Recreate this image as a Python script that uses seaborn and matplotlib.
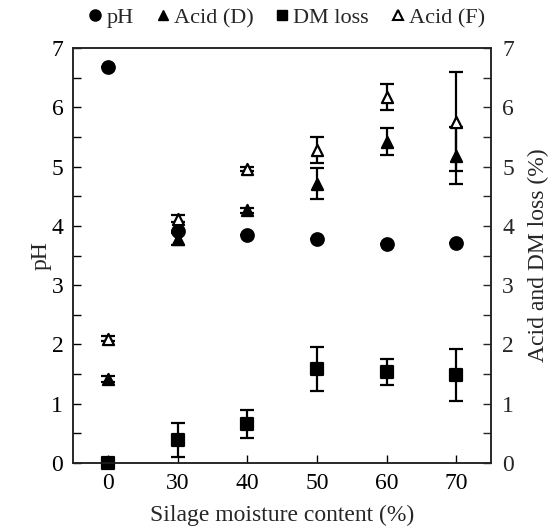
import matplotlib
matplotlib.use("Agg")
import matplotlib.pyplot as plt
from matplotlib.lines import Line2D
from matplotlib.ticker import MultipleLocator
import seaborn as sns
import pandas as pd

moisture = ["0", "30", "40", "50", "60", "70"]
ph = [6.68, 3.92, 3.85, 3.78, 3.69, 3.72]
ph_err = [0, 0, 0, 0, 0, 0]
acid_d = [1.42, 3.78, 4.26, 4.71, 5.42, 5.18]
acid_d_err = [0.05, 0.1, 0.05, 0.26, 0.23, 0.48]
acid_f = [2.10, 4.12, 4.96, 5.28, 6.17, 5.76]
acid_f_err = [0.04, 0.06, 0.04, 0.22, 0.22, 0.83]
dm_loss = [0.0, 0.39, 0.66, 1.58, 1.54, 1.48]
dm_loss_err = [0.0, 0.29, 0.23, 0.37, 0.22, 0.44]

sns.set_style("ticks")
plt.rcParams["font.family"] = ["Liberation Serif", "DejaVu Serif"]

FS = 17

fig = plt.figure(figsize=(5.53, 5.28), dpi=100)
ax = fig.add_axes([0.132, 0.123, 0.756, 0.786])

series = [
    ("pH", ph, ph_err, "o", "black", 9),
    ("Acid (D)", acid_d, acid_d_err, "^", "black", 8),
    ("DM loss", dm_loss, dm_loss_err, "s", "black", 8.5),
    ("Acid (F)", acid_f, acid_f_err, "^", "white", 8),
]

rows = []
for name, vals, errs, m, fc, ms in series:
    for x, v, e in zip(moisture, vals, errs):
        rows.append({"moisture": x, "value": v, "err": e, "series": name})
df = pd.DataFrame(rows)

for name, vals, errs, m, fc, ms in series:
    sub = df[df["series"] == name]
    ax.errorbar(sub["moisture"], sub["value"], yerr=sub["err"], fmt="none",
                ecolor="black", elinewidth=1.6, capsize=5, capthick=1.6, zorder=2)

for name, vals, errs, m, fc, ms in series:
    sub = df[df["series"] == name]
    sns.scatterplot(data=sub, x="moisture", y="value", ax=ax, marker=m,
                    s=ms ** 2, color=fc, edgecolor="black", linewidth=1.6,
                    zorder=3, legend=False, clip_on=False)

ax.set_xlim(-0.5, 5.5)
ax.set_ylim(0, 7)
ax.yaxis.set_major_locator(MultipleLocator(1))
ax.yaxis.set_minor_locator(MultipleLocator(0.5))
ax.tick_params(axis="both", which="both", direction="in", length=6, width=1,
               labelsize=FS, colors="black")
ax.tick_params(axis="x", pad=7)
ax.tick_params(axis="y", pad=7)
ax.set_xlabel("Silage moisture content (%)", fontsize=FS, labelpad=8)
ax.set_ylabel("pH", fontsize=FS, labelpad=0)

ax2 = ax.twinx()
ax2.set_ylim(0, 7)
ax2.yaxis.set_major_locator(MultipleLocator(1))
ax2.yaxis.set_minor_locator(MultipleLocator(0.5))
ax2.tick_params(axis="y", which="both", direction="in", length=6, width=1,
                labelsize=FS, pad=8)
ax2.set_ylabel("Acid and DM loss (%)", fontsize=FS, labelpad=10)

for a in (ax, ax2):
    for s in a.spines.values():
        s.set_linewidth(1.1)
        s.set_color("#222222")

handles = [
    Line2D([], [], linestyle="none", marker="o", color="black", markersize=8),
    Line2D([], [], linestyle="none", marker="^", color="black", markersize=7),
    Line2D([], [], linestyle="none", marker="s", color="black", markersize=7),
    Line2D([], [], linestyle="none", marker="^", markerfacecolor="white",
           markeredgecolor="black", markeredgewidth=1.5, markersize=7),
]
fig.legend(handles, ["pH", "Acid (D)", "DM loss", "Acid (F)"], loc="center",
           bbox_to_anchor=(0.515, 0.966), ncol=4, frameon=False, fontsize=16,
           handletextpad=0.0, columnspacing=0.8, handlelength=1.0)

fig.savefig("out.png", dpi=100)
